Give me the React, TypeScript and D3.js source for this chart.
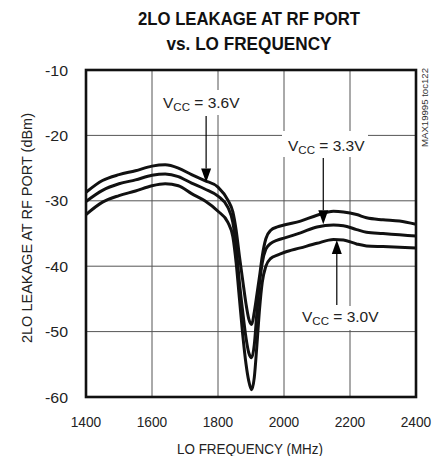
import React from "react";
import * as d3 from "d3";

const freqs = [1400, 1450, 1500, 1550, 1600, 1640, 1680, 1720, 1760, 1800, 1830, 1845, 1855, 1865, 1875, 1885, 1893, 1902, 1910, 1918, 1926, 1934, 1945, 1960, 1980, 2000, 2050, 2100, 2150, 2180, 2220, 2250, 2300, 2350, 2400];
const vcc36 = [-28.7, -26.9, -26.0, -25.4, -24.7, -24.5, -25.0, -26.0, -26.9, -27.9, -29.9, -31.7, -34.5, -38.5, -42.2, -45.8, -48.0, -48.9, -47.0, -44.3, -41.5, -38.5, -35.8, -34.5, -34.0, -33.7, -33.1, -32.2, -31.6, -31.7, -32.1, -32.6, -32.9, -33.1, -33.6];
const vcc33 = [-30.1, -28.4, -27.4, -26.8, -26.1, -25.9, -26.3, -27.3, -28.2, -29.3, -31.0, -33.3, -37.0, -42.5, -47.0, -51.0, -53.2, -54.0, -52.0, -47.0, -42.5, -39.5, -37.4, -36.5, -36.0, -35.7, -34.9, -34.0, -33.7, -33.8, -34.4, -34.8, -35.0, -35.2, -35.4];
const vcc30 = [-32.1, -30.2, -29.2, -28.5, -27.7, -27.4, -27.7, -28.9, -30.0, -31.6, -33.3, -35.5, -39.5, -45.0, -50.5, -55.0, -57.5, -58.9, -57.0, -52.0, -46.5, -42.5, -40.0, -38.8, -38.3, -37.9, -37.2, -36.5, -35.9, -36.0, -36.6, -36.9, -37.0, -37.1, -37.2];

const xTicks = [1400, 1600, 1800, 2000, 2200, 2400];
const yTicks = [-10, -20, -30, -40, -50, -60];

const titleLines = ["2LO LEAKAGE AT RF PORT", "vs. LO FREQUENCY"];
const xTitle = "LO FREQUENCY (MHz)";
const yTitle = "2LO LEAKAGE AT RF PORT (dBm)";
const tocText = "MAX19995 toc122";

const annVolts = ["3.6V", "3.3V", "3.0V"];
const annFreqs = [1764, 2119, 2160];
const annTips = [-27.2, -33.6, -36.0];

const W = 439, H = 456;
const M = { left: 86, right: 416, top: 70, bottom: 397 };
const FONT = "'Liberation Sans', Arial, sans-serif";

export default function App() {
  const x = d3.scaleLinear().domain([1400, 2400]).range([M.left, M.right]);
  const y = d3.scaleLinear().domain([-60, -10]).range([M.bottom, M.top]);
  const line = d3
    .line<number>()
    .x((_, i) => x(freqs[i]))
    .y((d) => y(d))
    .curve(d3.curveMonotoneX);
  const series = [vcc36, vcc33, vcc30];

  const labels = [
    { x: 163, yb: 108, arrowStart: 116, up: false },
    { x: 288, yb: 151, arrowStart: 158, up: false },
    { x: 302, yb: 322, arrowStart: 305, up: true },
  ];

  const arrow = (i: number) => {
    const ax = x(annFreqs[i]);
    const tip = y(annTips[i]);
    const start = labels[i].arrowStart;
    const dir = labels[i].up ? -1 : 1;
    const hl = 14, hw = 5;
    return (
      <g key={"a" + i}>
        <line x1={ax} x2={ax} y1={start} y2={tip - dir * hl} stroke="#000" strokeWidth={1.2} />
        <path d={`M${ax},${tip} L${ax - hw},${tip - dir * hl} L${ax + hw},${tip - dir * hl} Z`} fill="#000" />
      </g>
    );
  };

  return (
    <svg width={W} height={H} style={{ position: "absolute", left: 0, top: 0, background: "#fff" }}>
      <rect x={0} y={0} width={W} height={H} fill="#fff" />
      {titleLines.map((t, i) => (
        <text
          key={t}
          x={249}
          y={25 + i * 24.5}
          textAnchor="middle"
          fontFamily="'Liberation Sans Narrow', 'Liberation Sans', Arial, sans-serif"
          fontWeight="bold"
          fontSize={18.5}
          textLength={i === 0 ? 222 : 165}
          lengthAdjust="spacingAndGlyphs"
          fill="#111"
        >
          {t}
        </text>
      ))}
      {xTicks.slice(1, -1).map((t) => (
        <line key={"gx" + t} x1={x(t)} x2={x(t)} y1={M.top} y2={M.bottom} stroke="#555" strokeWidth={1} />
      ))}
      {yTicks.slice(1, -1).map((t) => (
        <line key={"gy" + t} x1={M.left} x2={M.right} y1={y(t)} y2={y(t)} stroke="#555" strokeWidth={1} />
      ))}
      <rect x={158} y={90} width={88} height={25} fill="#fff" />
      <rect x={282} y={131} width={86} height={26} fill="#fff" />
      <rect x={296} y={306} width={84} height={24} fill="#fff" />
      {series.map((s, i) => (
        <path key={"s" + i} d={line(s) || ""} fill="none" stroke="#111" strokeWidth={3} strokeLinejoin="round" />
      ))}
      <rect x={M.left} y={M.top} width={M.right - M.left} height={M.bottom - M.top} fill="none" stroke="#111" strokeWidth={2.6} />
      {annVolts.map((v, i) => (
        <g key={"l" + i}>
          <text x={labels[i].x} y={labels[i].yb} fontFamily={FONT} fontSize={15.5} fill="#222">
            V
            <tspan fontSize={11.5} dy={3}>CC</tspan>
            <tspan dy={-3}>{" = " + v}</tspan>
          </text>
          {arrow(i)}
        </g>
      ))}
      {yTicks.map((t) => (
        <text
          key={"yt" + t}
          x={68}
          y={y(t) + 5.5}
          textAnchor="end"
          fontFamily={FONT}
          fontSize={15}
          textLength={23}
          lengthAdjust="spacingAndGlyphs"
          fill="#222"
        >
          {t}
        </text>
      ))}
      {xTicks.map((t) => (
        <text
          key={"xt" + t}
          x={x(t)}
          y={427}
          textAnchor="middle"
          fontFamily={FONT}
          fontSize={15}
          textLength={30.5}
          lengthAdjust="spacingAndGlyphs"
          fill="#222"
        >
          {t}
        </text>
      ))}
      <text
        x={250}
        y={454}
        textAnchor="middle"
        fontFamily={FONT}
        fontSize={15.5}
        textLength={146}
        lengthAdjust="spacingAndGlyphs"
        fill="#222"
      >
        {xTitle}
      </text>
      <text
        transform={`translate(31.5,228) rotate(-90)`}
        textAnchor="middle"
        fontFamily={FONT}
        fontSize={15.5}
        textLength={230}
        lengthAdjust="spacingAndGlyphs"
        fill="#222"
      >
        {yTitle}
      </text>
      <text
        transform={`translate(428,68) rotate(-90)`}
        textAnchor="end"
        fontFamily={FONT}
        fontSize={9.5}
        textLength={79}
        lengthAdjust="spacingAndGlyphs"
        fill="#333"
      >
        {tocText}
      </text>
    </svg>
  );
}
